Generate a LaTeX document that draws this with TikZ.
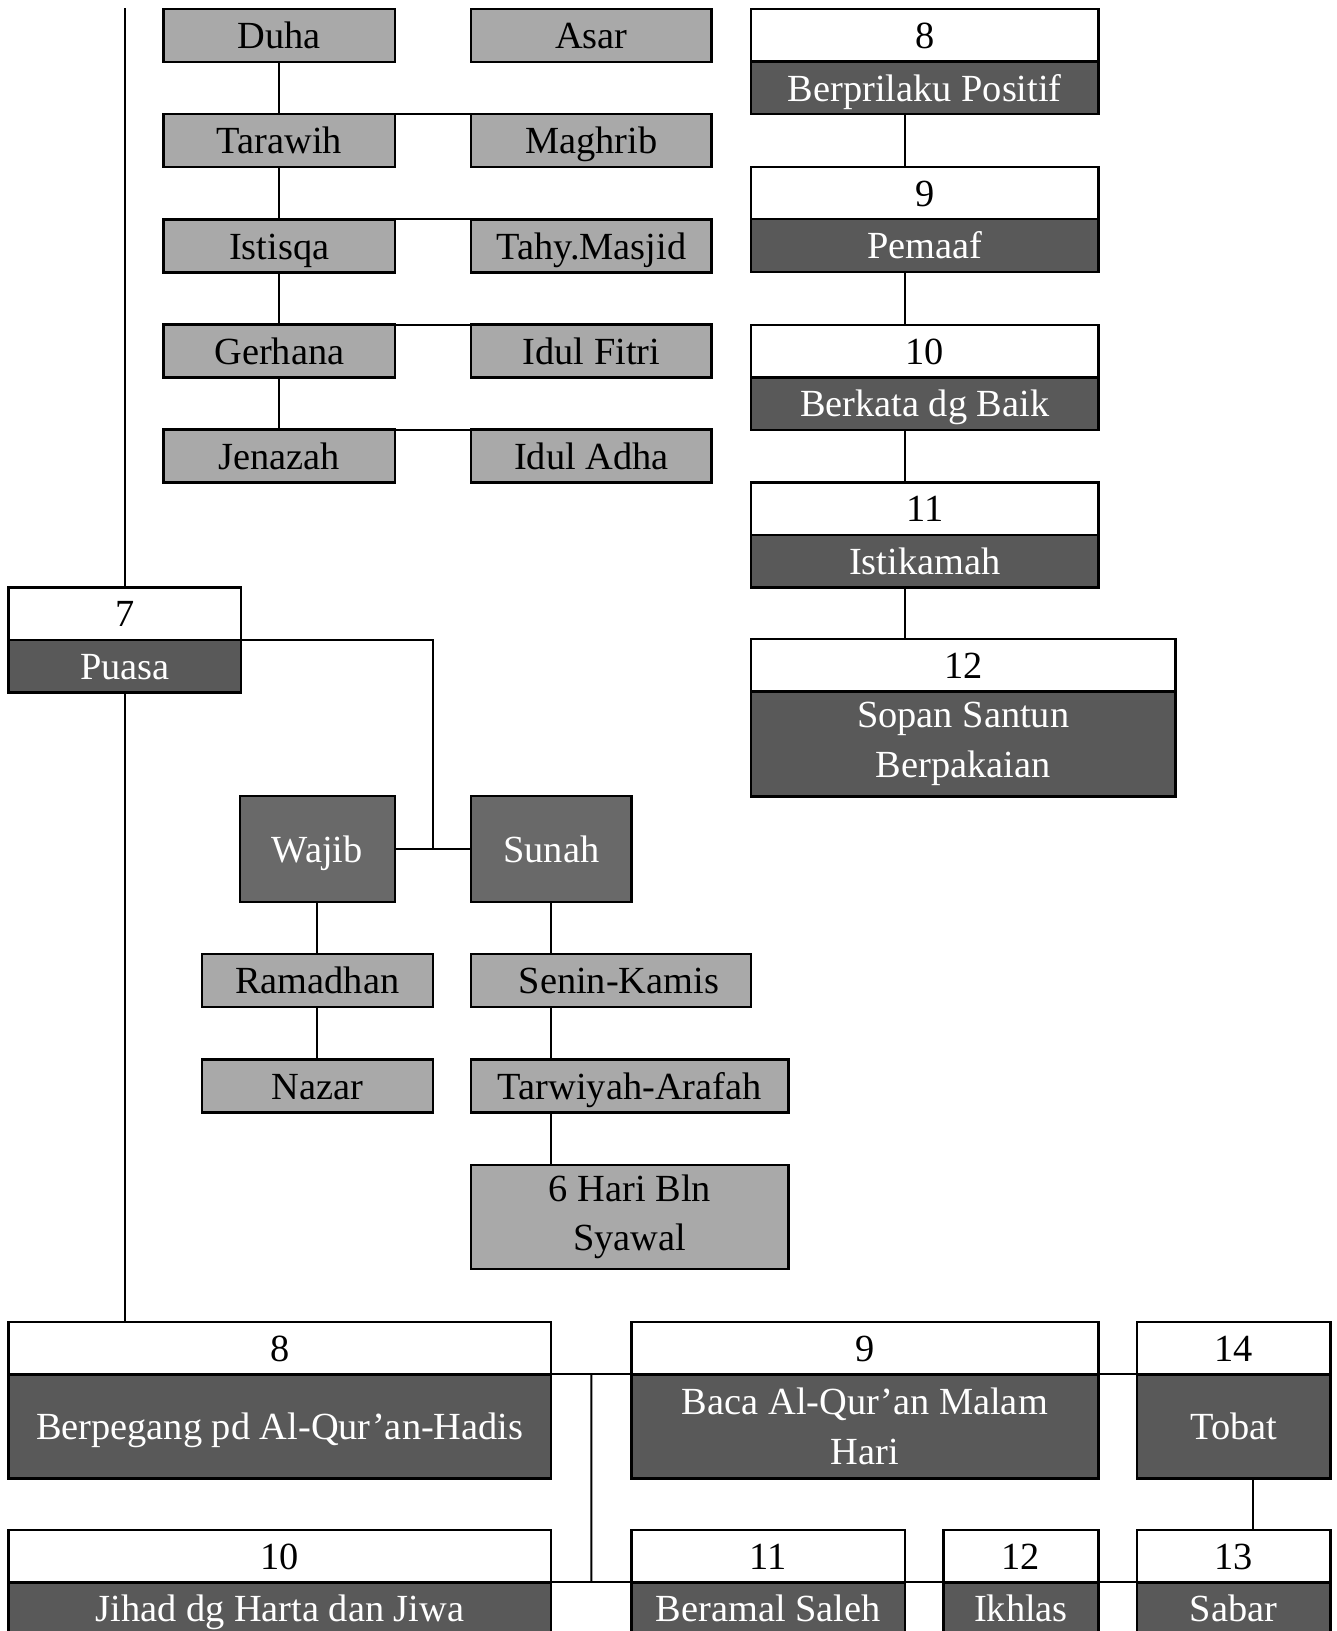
\documentclass[tikz,border=0pt]{standalone}
\usepackage{fontspec}
\setmainfont{Liberation Serif}
\usetikzlibrary{positioning, calc}

\definecolor{sholatgray}{HTML}{A9A9A9}
\definecolor{namegray}{HTML}{595959}
\definecolor{jenisgray}{HTML}{696969}

\begin{document}
\begin{tikzpicture}[
  x=0.02cm, y=-0.02cm,
  every node/.style={
    font=\fontsize{21}{27}\selectfont, inner sep=0pt, outer sep=0pt, align=center,
    text height=16pt, text depth=1.5pt
  },
  twolines/.style={text height={}, text depth={}},
  sholatbox/.style={
    rectangle, draw=black, fill=sholatgray, line width=1.3pt,
    minimum height=1.02cm
  },
  numbox/.style={
    rectangle, draw=black, fill=white, line width=1.3pt,
    minimum height=1.01cm
  },
  namebox/.style={
    rectangle, draw=black, fill=namegray, text=white, line width=1.3pt,
    minimum height=1.01cm
  },
  jenisbox/.style={
    rectangle, draw=black, fill=jenisgray, text=white, line width=1.3pt,
    minimum height=2.04cm
  },
  link/.style={draw=black, line width=1.1pt},
]
\useasboundingbox (0,0) rectangle (1285,1568);

%% ── Sholat sunah / wajib list ────────────────────────────────────────────────
\node[sholatbox, minimum width=4.46cm] (duha)      at (268.5, 34)    {Duha};
\node[sholatbox, minimum width=4.62cm] (asar)      at (568.5, 34)    {Asar};
\node[sholatbox, minimum width=4.46cm] (tarawih)   at (268.5, 135)   {Tarawih};
\node[sholatbox, minimum width=4.62cm] (maghrib)   at (568.5, 135)   {Maghrib};
\node[sholatbox, minimum width=4.46cm] (istisqa)   at (268.5, 236.5) {Istisqa};
\node[sholatbox, minimum width=4.62cm] (tahiyat)   at (568.5, 236.5) {Tahy.Masjid};
\node[sholatbox, minimum width=4.46cm] (gerhana)   at (268.5, 337.5) {Gerhana};
\node[sholatbox, minimum width=4.62cm] (idulfitri) at (568.5, 337.5) {Idul Fitri};
\node[sholatbox, minimum width=4.46cm] (jenazah)   at (268.5, 438.5) {Jenazah};
\node[sholatbox, minimum width=4.62cm] (iduladha)  at (568.5, 438.5) {Idul Adha};

\draw[link] (duha.south)    -- (tarawih.north);
\draw[link] (tarawih.south) -- (istisqa.north);
\draw[link] (istisqa.south) -- (gerhana.north);
\draw[link] (gerhana.south) -- (jenazah.north);

\draw[link] (tarawih.north east) -- (maghrib.north west);
\draw[link] (istisqa.north east) -- (tahiyat.north west);
\draw[link] (gerhana.north east) -- (idulfitri.north west);
\draw[link] (jenazah.north east) -- (iduladha.north west);

%% ── 7 Puasa ──────────────────────────────────────────────────────────────────
\coordinate (spinetop) at (120, 8);
\node[numbox, minimum width=4.48cm] (n7) at (120, 590) {7};
\node[namebox, minimum width=4.48cm, below=0pt of n7] (puasa) {Puasa};

\draw[link] (spinetop) -- (n7.north);

\node[jenisbox, minimum width=2.98cm] (wajib) at (305, 816) {Wajib};
\node[jenisbox, minimum width=3.08cm] (sunah) at (530, 816) {Sunah};

\coordinate (jenisjoin) at ($(wajib.east)!0.5!(sunah.west)$);
\draw[link] (n7.south east) -| (jenisjoin);
\draw[link] (wajib.east) -- (sunah.west);

% wajib
\node[sholatbox, minimum width=4.44cm] (ramadhan) at (305, 942.5) {Ramadhan};
\node[sholatbox, minimum width=4.44cm] (nazar)    at (305, 1044)  {Nazar};

\draw[link] (wajib.south)    -- (ramadhan.north);
\draw[link] (ramadhan.south) -- (nazar.north);

% sunah
\node[sholatbox, minimum width=5.38cm] (senin)    at (587.5, 942.5) {\hspace*{0.3cm}Senin-Kamis};
\node[sholatbox, minimum width=6.10cm] (tarwiyah) at (605.5, 1044)  {Tarwiyah-Arafah};
\node[sholatbox, twolines, minimum width=6.10cm, minimum height=2.0cm] (syawal)
  at (605.5, 1170) {6 Hari Bln\\Syawal};

\draw[link] (sunah.south) -- (sunah.south |- senin.north);
\draw[link] (sunah.south |- senin.south)    -- (sunah.south |- tarwiyah.north);
\draw[link] (sunah.south |- tarwiyah.south) -- (sunah.south |- syawal.north);

%% ── Akhlak 8 – 12 (right column) ─────────────────────────────────────────────
\coordinate (akhlakline) at (870, 0);

\node[numbox, minimum width=6.68cm] (r8) at (889, 34) {8};
\node[namebox, minimum width=6.68cm, below=0pt of r8] (positif) {Berprilaku Positif};

\node[numbox, minimum width=6.68cm] (r9) at (889, 185.5) {9};
\node[namebox, minimum width=6.68cm, below=0pt of r9] (pemaaf) {Pemaaf};

\node[numbox, minimum width=6.68cm] (r10) at (889, 337.5) {10};
\node[namebox, minimum width=6.68cm, below=0pt of r10] (berkata) {Berkata dg Baik};

\node[numbox, minimum width=6.68cm] (r11) at (889, 489) {11};
\node[namebox, minimum width=6.68cm, below=0pt of r11] (istikamah) {Istikamah};

\node[numbox, minimum width=8.16cm] (r12) at (926, 639.5) {12};
\node[namebox, twolines, minimum width=8.16cm, minimum height=2.02cm, below=0pt of r12] (sopan)
  {Sopan Santun\\Berpakaian};

\draw[link] (positif.south -| akhlakline)   -- (r9.north -| akhlakline);
\draw[link] (pemaaf.south -| akhlakline)    -- (r10.north -| akhlakline);
\draw[link] (berkata.south -| akhlakline)   -- (r11.north -| akhlakline);
\draw[link] (istikamah.south -| akhlakline) -- (r12.north -| akhlakline);

%% ── Bottom rows 8 – 14 ───────────────────────────────────────────────────────
\node[numbox, minimum width=10.44cm] (b8) at (269, 1296) {8};
\node[namebox, minimum width=10.44cm, minimum height=2.0cm, below=0pt of b8] (berpegang)
  {Berpegang pd Al-Qur’an-Hadis};

\node[numbox, minimum width=8.98cm] (b9) at (831.5, 1296) {9};
\node[namebox, twolines, minimum width=8.98cm, minimum height=2.0cm, below=0pt of b9] (bacaquran)
  {Baca Al-Qur’an Malam\\Hari};

\node[numbox, minimum width=3.72cm] (b14) at (1186, 1296) {14};
\node[namebox, minimum width=3.72cm, minimum height=2.0cm, below=0pt of b14] (tobat)
  {Tobat};

\node[numbox, minimum width=10.44cm] (b10) at (269, 1496) {10};
\node[namebox, minimum width=10.44cm, below=0pt of b10] (jihad) {Jihad dg Harta dan Jiwa};

\node[numbox, minimum width=5.26cm] (b11) at (738.5, 1496) {11};
\node[namebox, minimum width=5.26cm, below=0pt of b11] (beramal) {Beramal Saleh};

\node[numbox, minimum width=2.98cm] (b12) at (981.5, 1496) {12};
\node[namebox, minimum width=2.98cm, below=0pt of b12] (ikhlas) {Ikhlas};

\node[numbox, minimum width=3.72cm] (b13) at (1186, 1496) {13};
\node[namebox, minimum width=3.72cm, below=0pt of b13] (sabar) {Sabar};

% puasa → 8
\draw[link] (puasa.south) -- (puasa.south |- b8.north);

\coordinate (upperjoin) at ($(b8.south east)!0.5!(b9.south west)$);
\coordinate (lowerjoin) at ($(b10.south east)!0.5!(b11.south west)$);
\coordinate (tobatline) at (1205, 0);

\draw[link] (b8.south east)  -- (b9.south west);
\draw[link] (upperjoin)      -- (lowerjoin);
\draw[link] (b10.south east) -- (b11.south west);
\draw[link] (b9.south east)  -- (b14.south west);
\draw[link] (tobat.south -| tobatline) -- (b13.north -| tobatline);
\draw[link] (b11.south east) -- (b12.south west);
\draw[link] (b12.south east) -- (b13.south west);

\end{tikzpicture}
\end{document}
